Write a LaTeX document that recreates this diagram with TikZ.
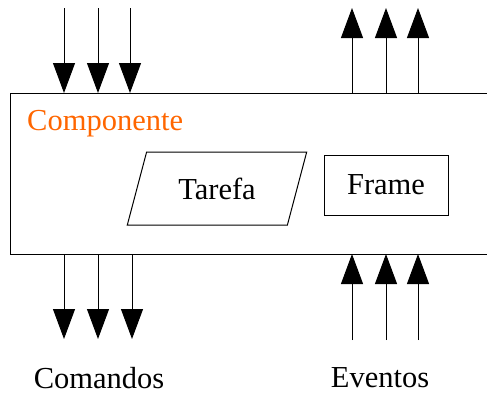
\documentclass[tikz,border=0pt]{standalone}
\usepackage{fontspec}
\setmainfont{Liberation Serif}
\usetikzlibrary{arrows.meta,shapes.geometric}
\definecolor{cporange}{RGB}{255,102,0}

\begin{document}
\begin{tikzpicture}[
  x=1pt, y=-1pt,
  font=\rmfamily\fontsize{30.5}{36}\selectfont,
  comp/.style={rectangle, draw, line width=1pt, inner sep=0pt, outer sep=0pt, minimum width=479.5pt, minimum height=161pt},
  task/.style={trapezium, draw, line width=1pt, trapezium left angle=64, trapezium right angle=116, trapezium stretches=true, minimum width=180pt, minimum height=73pt, inner sep=0pt, outer sep=0pt},
  framebox/.style={rectangle, draw, line width=1pt, inner sep=0pt, outer sep=0pt, minimum width=124pt, minimum height=60pt},
  arrow/.style={-{Triangle[length=30pt,width=22pt]}, line width=1pt}
]
\useasboundingbox (0,0) rectangle (487,394);

% Component with task and frame
\node[comp] (c) at (250.25,173.5) {};
\node[anchor=base west, inner sep=0pt, text=cporange] (cname) at (27,130) {Componente};
\node[task] (tarefa) at (217,188.5) {Tarefa};
\node[framebox] (frame) at (386,185) {Frame};

% Free ends of the arrows
\foreach \i/\x in {1/64,2/98,3/130} \coordinate (in\i) at (\x,8);
\foreach \i/\x in {1/64,2/98,3/132} \coordinate (cmd\i) at (\x,339);
\foreach \i/\x in {1/352,2/386,3/418} {
  \coordinate (out\i) at (\x,8);
  \coordinate (ev\i) at (\x,340);
}

% Arrows in and out
\foreach \i in {1,2,3} {
  \draw[arrow] (in\i) -- (in\i |- c.north);
  \draw[arrow] (out\i |- c.north) -- (out\i);
  \draw[arrow] (cmd\i |- c.south) -- (cmd\i);
  \draw[arrow] (ev\i) -- (ev\i |- c.south);
}

% Labels
\node (cmd) at (99,378) {Comandos};
\node (ev) at (380,378) {Eventos};

\end{tikzpicture}
\end{document}
